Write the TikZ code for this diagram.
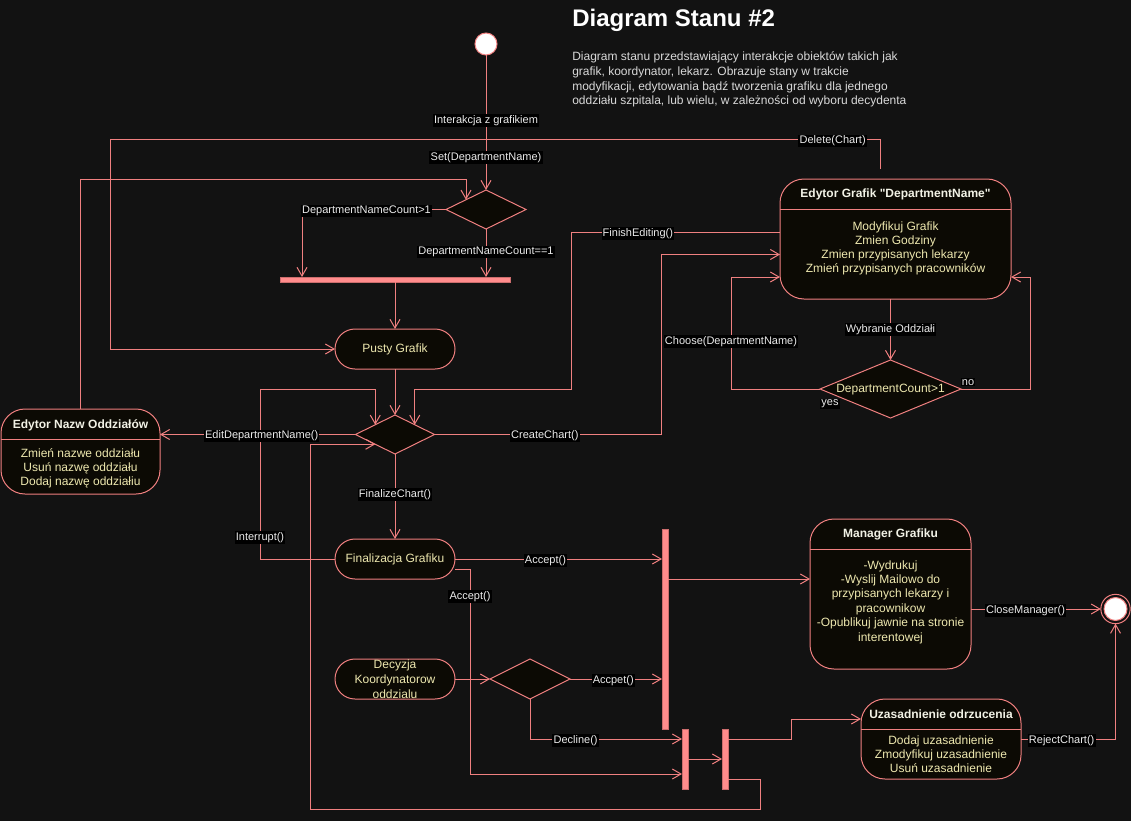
\documentclass[tikz,border=0pt]{standalone}
\usepackage{fontspec}
\setmainfont{Liberation Sans}[Ligatures=TeXOff]
\usetikzlibrary{arrows.meta,shapes.geometric}
\definecolor{bg}{RGB}{18,18,18}
\definecolor{lc}{RGB}{240,128,128}
\definecolor{nf}{RGB}{12,10,4}
\definecolor{barf}{RGB}{255,140,140}
\definecolor{ntext}{RGB}{238,232,175}
\definecolor{ttext}{RGB}{242,242,230}
\begin{document}
\begin{tikzpicture}[x=0.75pt,y=-0.75pt,
  >={Straight Barb[length=6.5pt,width=7.5pt]},
  edge/.style={draw=lc,line width=0.75pt,->},
  wire/.style={draw=lc,line width=0.75pt},
  lbl/.style={fill=black,text=white!92!black,font=\fontsize{8.25}{9.5}\selectfont,inner sep=0.9pt,yshift=-1.2pt},
  pill/.style={draw=lc,fill=nf,line width=0.75pt,rounded corners=15pt,minimum width=90pt,minimum height=30pt,inner sep=0pt,outer sep=0pt,text=ntext,font=\fontsize{9}{11.25}\selectfont,align=center},
  cbox/.style={draw=lc,fill=nf,line width=0.75pt,rounded corners=18pt,inner sep=0pt,outer sep=0pt},
  ctitle/.style={text=ttext,font=\bfseries\fontsize{9}{10.5}\selectfont,inner sep=0pt},
  cbody/.style={text=ntext,font=\fontsize{9}{10.5}\selectfont,align=center,inner sep=0pt},
  choice/.style={diamond,draw=lc,fill=nf,line width=0.75pt,inner sep=0pt,outer sep=0pt},
  forkbar/.style={draw=lc!85!black,fill=barf,line width=0.75pt,inner sep=0pt,outer sep=0pt}
]
\fill[bg] (0,0) rectangle (1131,821);
\useasboundingbox (0,0) rectangle (1131,821);

% title and description
\node[anchor=west,text=white,font=\bfseries\fontsize{18}{20}\selectfont,inner sep=0pt] (title) at (572,20) {Diagram Stanu \#2};
\node[anchor=west,align=left,text=white!85!black,font=\fontsize{9}{11}\selectfont,inner sep=0pt] (desc) at (572,79.5) {Diagram stanu przedstawiający interakcje obiektów takich jak\\grafik, koordynator, lekarz. Obrazuje stany w trakcie\\modyfikacji, edytowania bądź tworzenia grafiku dla jednego\\oddziału szpitala, lub wielu, w zależności od wyboru decydenta};

% nodes
\node[circle,draw=lc,fill=white,line width=0.75pt,minimum size=16.5pt,inner sep=0pt,outer sep=0pt] (start) at (486,44) {};
\node[choice,minimum width=60pt,minimum height=29.25pt] (d1) at (486,209.5) {};
\node[forkbar,minimum width=172.5pt,minimum height=3.75pt] (bar) at (395,279.5) {};
\node[pill] (pusty) at (395,349) {Pusty Grafik};
\node[choice,minimum width=59.25pt,minimum height=29.25pt] (d2) at (395,434.5) {};

\node[cbox,minimum width=119.25pt,minimum height=63.75pt] (ena) at (80.5,451.5) {};
\draw[wire] (ena.west |- 0,439) -- (ena.east |- 0,439);
\node[ctitle] (enaT) at (80.5,425.5) {Edytor Nazw Oddziałów};
\node[cbody] (enaB) at (80.5,468) {Zmień nazwe oddziału\\Usuń nazwę oddziału\\Dodaj nazwę oddziałiu};

\node[cbox,minimum width=173.25pt,minimum height=90pt] (eg) at (895.5,239) {};
\draw[wire] (eg.west |- 0,209) -- (eg.east |- 0,209);
\node[ctitle] (egT) at (895.5,194.5) {Edytor Grafik "DepartmentName"};
\node[cbody] (egB) at (895.5,248) {Modyfikuj Grafik\\Zmien Godziny\\Zmien przypisanych lekarzy\\Zmień przypisanych pracowników};

\node[choice,minimum width=105.75pt,minimum height=43.5pt] (d3) at (890.5,389) {};
\node[cbody] (d3T) at (890.5,389.5) {DepartmentCount>1};

\node[pill] (fin) at (395,559) {Finalizacja Grafiku};
\node[pill] (dec) at (395,679) {Decyzja\\Koordynatorow\\oddzialu};
\node[choice,minimum width=60pt,minimum height=30pt] (d4) at (530,679) {};

\node[forkbar,minimum width=4.5pt,minimum height=150pt] (barA) at (665,629) {};
\node[forkbar,minimum width=4.5pt,minimum height=45pt] (barB) at (685,759) {};
\node[forkbar,minimum width=4.5pt,minimum height=45pt] (barC) at (725,759) {};

\node[cbox,minimum width=120.75pt,minimum height=112.5pt] (mg) at (890.5,594) {};
\draw[wire] (mg.west |- 0,549) -- (mg.east |- 0,549);
\node[ctitle] (mgT) at (890.5,534.5) {Manager Grafiku};
\node[cbody,font=\fontsize{9}{10.8}\selectfont] (mgB) at (890.5,602) {-Wydrukuj\\-Wyslij Mailowo do\\przypisanych lekarzy i\\pracownikow\\-Opublikuj jawnie na stronie\\interentowej};

\node[cbox,minimum width=120pt,minimum height=60pt] (uz) at (941,739) {};
\draw[wire] (uz.west |- 0,729) -- (uz.east |- 0,729);
\node[ctitle] (uzT) at (941,714.5) {Uzasadnienie odrzucenia};
\node[cbody] (uzB) at (941,754) {Dodaj uzasadnienie\\Zmodyfikuj uzasadnienie\\Usuń uzasadnienie};

\node[circle,draw=lc,fill=bg,line width=0.75pt,minimum size=22pt,inner sep=0pt,outer sep=0pt] (end) at (1115.5,609) {};
\node[circle,draw=lc,fill=white,line width=0.75pt,minimum size=17.25pt,inner sep=0pt,outer sep=0pt] (endI) at (1115.5,609) {};

% connectors
\draw[edge] (start) -- node[lbl,pos=0.474]{Interakcja z grafikiem} node[lbl,pos=0.748]{Set(DepartmentName)} (d1.north);
\draw[edge] (d1.west) -- node[lbl,pos=0.552]{DepartmentNameCount>1} (302,209.5) -- (bar.north -| 302,0);
\draw[edge] (d1.south) -- node[lbl,pos=0.44]{DepartmentNameCount==1} (d1.south |- bar.north);
\draw[edge] (bar.south) -- (pusty.north);
\draw[edge] (pusty.south) -- (d2.north);
\draw[edge] (fin.west) -- (260,559) -- node[lbl,pos=0.135]{Interrupt()} (260,389) -- (d2.north west |- 0,389) -- (d2.north west);
\draw[edge] (d2.west) -- node[lbl,pos=0.48]{EditDepartmentName()} (ena.east |- d2.west);
\draw[edge] (ena.north) -- (80.5,179) -- (d1.north west |- 0,179) -- (d1.north west);
\coordinate (delS) at (880,169);
\draw[edge] (delS) -- (880,139.5) -- node[lbl,pos=0.0615]{Delete(Chart)} (110.5,139.5) -- (110.5,349) -- (pusty.west);
\draw[edge] (eg.west |- 0,232) -- node[lbl,pos=0.68]{FinishEditing()} (571,232) -- (571,389) -- (d2.north east |- 0,389) -- (d2.north east);
\draw[edge] (d2.east) -- node[lbl,pos=0.487]{CreateChart()} (661,434.5) -- (661,254.5) -- (eg.west |- 0,254.5);
\draw[edge] (eg.south -| d3.north) -- node[lbl,pos=0.475]{Wybranie Oddziałi} (d3.north);
\draw[edge] (d3.west) -- (731,389) -- node[lbl,pos=0.4375]{Choose(DepartmentName)} (731,277) -- (eg.west |- 0,277);
\node[lbl] (yesL) at (830,402.5) {yes};
\draw[edge] (d3.east) -- (1030,389) -- (1030,277) -- (eg.east |- 0,277);
\node[lbl] (noL) at (968,380.5) {no};
\draw[edge] (d2.south) -- node[lbl,pos=0.46]{FinalizeChart()} (fin.north);
\draw[edge] (barC.east |- 0,779) -- (760,779) -- (760,809) -- (310,809) -- (310,444.25) -- (d2.south west);
\draw[edge] (fin.east) -- node[lbl,pos=0.437]{Accept()} (barA.west |- fin.east);
\draw[edge] (fin.east |- 0,569) -- (470,569) -- node[lbl,pos=0.127]{Accept()} (470,774) -- (barB.west |- 0,774);
\draw[edge] (dec.east) -- (d4.west);
\draw[edge] (d4.east) -- node[lbl,pos=0.47]{Accpet()} (barA.west |- d4.east);
\draw[edge] (d4.south) -- (530,739) -- node[lbl,pos=0.30]{Decline()} (barB.west |- 0,739);
\draw[edge] (barB.east) -- (barC.west);
\draw[edge] (barA.east |- 0,579) -- (mg.west |- 0,579);
\draw[edge] (mg.east |- 0,609) -- node[lbl,pos=0.42]{CloseManager()} (end.west);
\draw[edge] (barC.east |- 0,739) -- (791,739) -- (791,719) -- (uz.west |- 0,719);
\draw[edge] (uz.east) -- node[lbl,pos=0.43]{RejectChart()} (1115.5,739) -- (end.south);
\end{tikzpicture}
\end{document}
